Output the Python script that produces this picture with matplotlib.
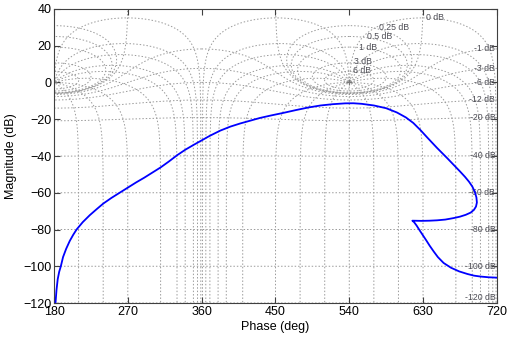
import numpy as np
import matplotlib
matplotlib.use("Agg")
import matplotlib.pyplot as plt

plt.rcParams['font.family'] = ['Liberation Sans', 'DejaVu Sans']

# open-loop response (phase in deg, magnitude in dB)
phase_deg = [181.8, 183.0, 184.5, 186.3, 188.3, 191.0, 194.8, 199.2, 203.5, 207.5,
             215.0, 223.6, 231.8, 240.0, 250.0, 260.0, 270.0, 280.0, 290.0, 300.0,
             310.0, 320.0, 330.0, 340.0, 350.0, 360.0, 370.0, 382.6, 395.0, 407.0,
             419.0, 431.0, 445.0, 460.0, 475.0, 490.0, 505.0, 520.0, 535.0, 545.0,
             555.0, 570.0, 585.0, 598.0, 609.0, 618.0, 627.0, 635.0, 647.0, 659.7,
             667.0, 675.0, 681.0, 686.0, 690.0, 693.0, 695.0, 695.6, 694.5, 692.0,
             688.0, 682.0, 675.0, 667.0, 657.0, 647.0, 638.0, 628.0, 616.9, 619.0,
             622.0, 626.0, 630.0, 634.0, 638.0, 643.0, 648.0, 655.0, 664.0, 674.0,
             684.0, 692.0, 700.0, 710.0, 720.0]
mag_db = [-120.0, -113.0, -107.0, -103.0, -100.0, -95.0, -90.5, -86.2, -82.8, -80.0,
          -76.0, -72.2, -69.0, -65.9, -62.8, -60.0, -57.2, -54.4, -51.8, -49.0,
          -46.2, -43.0, -39.6, -36.6, -34.0, -31.5, -29.0, -26.2, -24.0, -22.3,
          -20.8, -19.3, -17.9, -16.5, -15.0, -13.6, -12.5, -11.8, -11.35, -11.3,
          -11.6, -12.5, -14.0, -16.3, -19.0, -22.0, -26.0, -29.9, -35.6, -41.3,
          -44.7, -48.4, -51.3, -54.0, -56.6, -59.5, -62.5, -65.3, -67.5, -69.3,
          -70.8, -72.0, -73.0, -73.8, -74.6, -75.0, -75.2, -75.3, -75.2, -76.0,
          -77.8, -80.6, -83.3, -86.0, -88.8, -92.0, -95.0, -98.2, -100.8, -102.8,
          -104.2, -105.1, -105.6, -106.0, -106.2]

# Nichols grid values (closed-loop gain in dB, closed-loop phase in deg)
grid_gains = [6, 3, 1, 0.5, 0.25, 0, -1, -3, -6, -12, -20, -40, -60, -80, -100, -120]
grid_phases = [-1, -5, -10, -20, -30, -50, -90, -120, -150, -180, -210, -240,
               -270, -310, -330, -340, -350, -355, -359]
x_ticks = [180, 270, 360, 450, 540, 630, 720]
y_ticks = [-120, -100, -80, -60, -40, -20, 0, 20, 40]


def gain_contour(g):
    M = 10 ** (g / 20.0)
    if g < 0:
        phi = np.linspace(0, -2 * np.pi, 3000)
        T = M * np.exp(1j * phi)
        L = T / (1 - T)
        ph = np.degrees(np.unwrap(np.angle(L)))
    else:
        phi = np.linspace(1e-5, 2 * np.pi - 1e-5, 20000)
        T = M * np.exp(1j * phi)
        L = T / (1 - T)
        ph = np.mod(np.degrees(np.angle(L)), 360) - 360
    return ph, 20 * np.log10(np.abs(L))


def phase_contour(p):
    M = np.sort(np.concatenate([np.logspace(-7, 7, 4000), np.linspace(0.8, 1.25, 6000)]))
    T = M * np.exp(1j * np.radians(p))
    L = T / (1 - T)
    ph = p - np.degrees(np.angle(1 - T))
    return ph, 20 * np.log10(np.abs(L))


fig = plt.figure(figsize=(5.16, 3.42), dpi=100)
ax = fig.add_axes([0.1047, 0.114, 0.8583, 0.8597])

grid_kw = dict(color='#9a9a9a', lw=0.7, ls=(0, (1.5, 2)), zorder=1)
for shift in [360, 720]:
    for g in grid_gains:
        ph, db = gain_contour(g)
        ax.plot(ph + shift, db, **grid_kw)
    for p in grid_phases:
        ph, db = phase_contour(p)
        ax.plot(ph + shift, db, **grid_kw)
    ax.plot(shift - 180, 0, '+', color='#7a7a7a', ms=5, mew=0.8, zorder=2)

# contour labels
lab_kw = dict(fontsize=6.3, color='#4d4d55', zorder=3)
top_labels = {6: (545, 6.3), 3: (546, 11.2), 1: (552, 19.3), 0.5: (561, 25.3),
              0.25: (576, 30.2), 0: (633, 35.6)}
for g, (xp, yp) in top_labels.items():
    ax.text(xp, yp, f"{g:g} dB", ha='left', va='center', **lab_kw)
for g in grid_gains:
    if g < 0:
        ph, db = gain_contour(g)
        yv = max(db[0], -117)
        ax.text(718, yv, f"{g:g} dB", ha='right', va='center', **lab_kw)

ax.plot(phase_deg, mag_db, color='#0000ff', lw=1.3, zorder=4,
        solid_joinstyle='round')

ax.set_xlim(180, 720)
ax.set_ylim(-120, 40)
ax.set_xticks(x_ticks)
ax.set_yticks(y_ticks)
ax.tick_params(direction='in', top=True, right=True, labelsize=9, length=4,
               color='#404040', pad=2)
for s in ax.spines.values():
    s.set_color('#404040')
    s.set_linewidth(0.8)
ax.set_xlabel('Phase (deg)', fontsize=9, labelpad=2)
ax.set_ylabel('Magnitude (dB)', fontsize=9, labelpad=4)

fig.savefig('out.png', dpi=100)
